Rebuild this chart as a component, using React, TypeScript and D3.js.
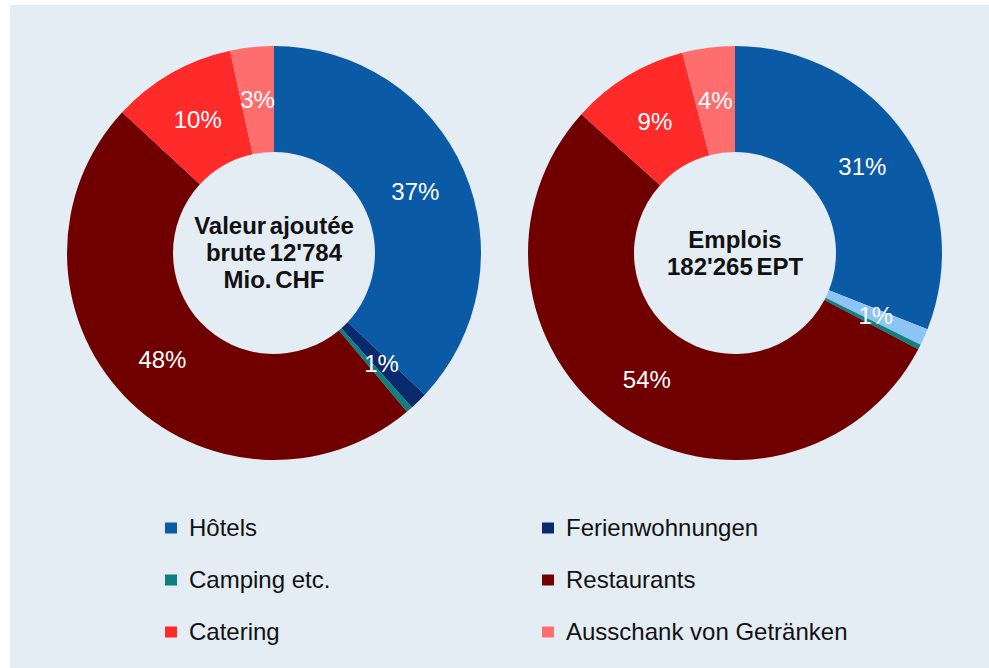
import React from "react";
import * as d3 from "d3";

const categories = ["Hôtels", "Ferienwohnungen", "Camping etc.", "Restaurants", "Catering", "Ausschank von Getränken"];
const legendColors = ["#0b5aa6", "#0a2a6e", "#0f7f7f", "#700000", "#ff2a2a", "#ff6e6e"];
const leftValues = [37.0, 1.4, 0.5, 48.0, 9.7, 3.4];
const leftLabels = ["37%", "1%", "", "48%", "10%", "3%"];
const leftColors = ["#0b5aa6", "#0a2a6e", "#0f7f7f", "#700000", "#ff2a2a", "#ff6e6e"];
const rightValues = [31.0, 1.3, 0.4, 54.0, 9.2, 4.1];
const rightLabels = ["31%", "1%", "", "54%", "9%", "4%"];
const rightColors = ["#0b5aa6", "#8cc4f5", "#0f7f7f", "#700000", "#ff2a2a", "#ff6e6e"];
const leftTitle = ["Valeur ajoutée", "brute 12'784", "Mio. CHF"];
const rightTitle = ["Emplois", "182'265 EPT"];

const W = 989;
const H = 668;
const R = 207;
const r = 101;
const FONT = "'Liberation Sans', Arial, sans-serif";

function Donut({ cx, cy, values, colors, labels, title }: { cx: number; cy: number; values: number[]; colors: string[]; labels: string[]; title: string[] }) {
  const pie = d3.pie<number>().sort(null).value((d) => d);
  const arcs = pie(values);
  const arc = d3.arc<d3.PieArcDatum<number>>().innerRadius(r).outerRadius(R);
  const labelArc = d3.arc<d3.PieArcDatum<number>>().innerRadius(154).outerRadius(154);
  const lh = 27;
  const y0 = -((title.length - 1) * lh) / 2;
  return (
    <g transform={`translate(${cx},${cy})`}>
      {arcs.map((a, i) => (
        <path key={i} d={arc(a) || ""} fill={colors[i]} />
      ))}
      {arcs.map((a, i) => {
        if (!labels[i]) return null;
        const [x, y] = labelArc.centroid(a);
        return (
          <text key={"l" + i} x={x} y={y} dy="0.35em" textAnchor="middle" fill="#fff" fontSize={24} fontFamily={FONT}>
            {labels[i]}
          </text>
        );
      })}
      {title.map((t, i) => (
        <text key={"t" + i} x={0} y={y0 + i * lh} dy="0.35em" textAnchor="middle" fill="#111" fontSize={24} fontWeight="bold" fontFamily={FONT} wordSpacing={-3}>
          {t}
        </text>
      ))}
    </g>
  );
}

export default function App() {
  const legendX = [165, 542];
  const legendY = [528, 580, 632];
  return (
    <svg width={W} height={H} style={{ position: "absolute", left: 0, top: 0, display: "block" }}>
      <rect x={0} y={0} width={W} height={H} fill="#ffffff" />
      <rect x={10} y={5} width={979} height={663} fill="#e4ecf4" />
      <Donut cx={274} cy={253} values={leftValues} colors={leftColors} labels={leftLabels} title={leftTitle} />
      <Donut cx={735} cy={253} values={rightValues} colors={rightColors} labels={rightLabels} title={rightTitle} />
      {categories.map((c, i) => {
        const col = i % 2;
        const row = Math.floor(i / 2);
        const x = legendX[col];
        const y = legendY[row];
        return (
          <g key={c}>
            <rect x={x} y={y - 5.5} width={12} height={11} fill={legendColors[i]} />
            <text x={x + 24} y={y} dy="0.35em" fontSize={24} fill="#111" fontFamily={FONT}>
              {c}
            </text>
          </g>
        );
      })}
    </svg>
  );
}
